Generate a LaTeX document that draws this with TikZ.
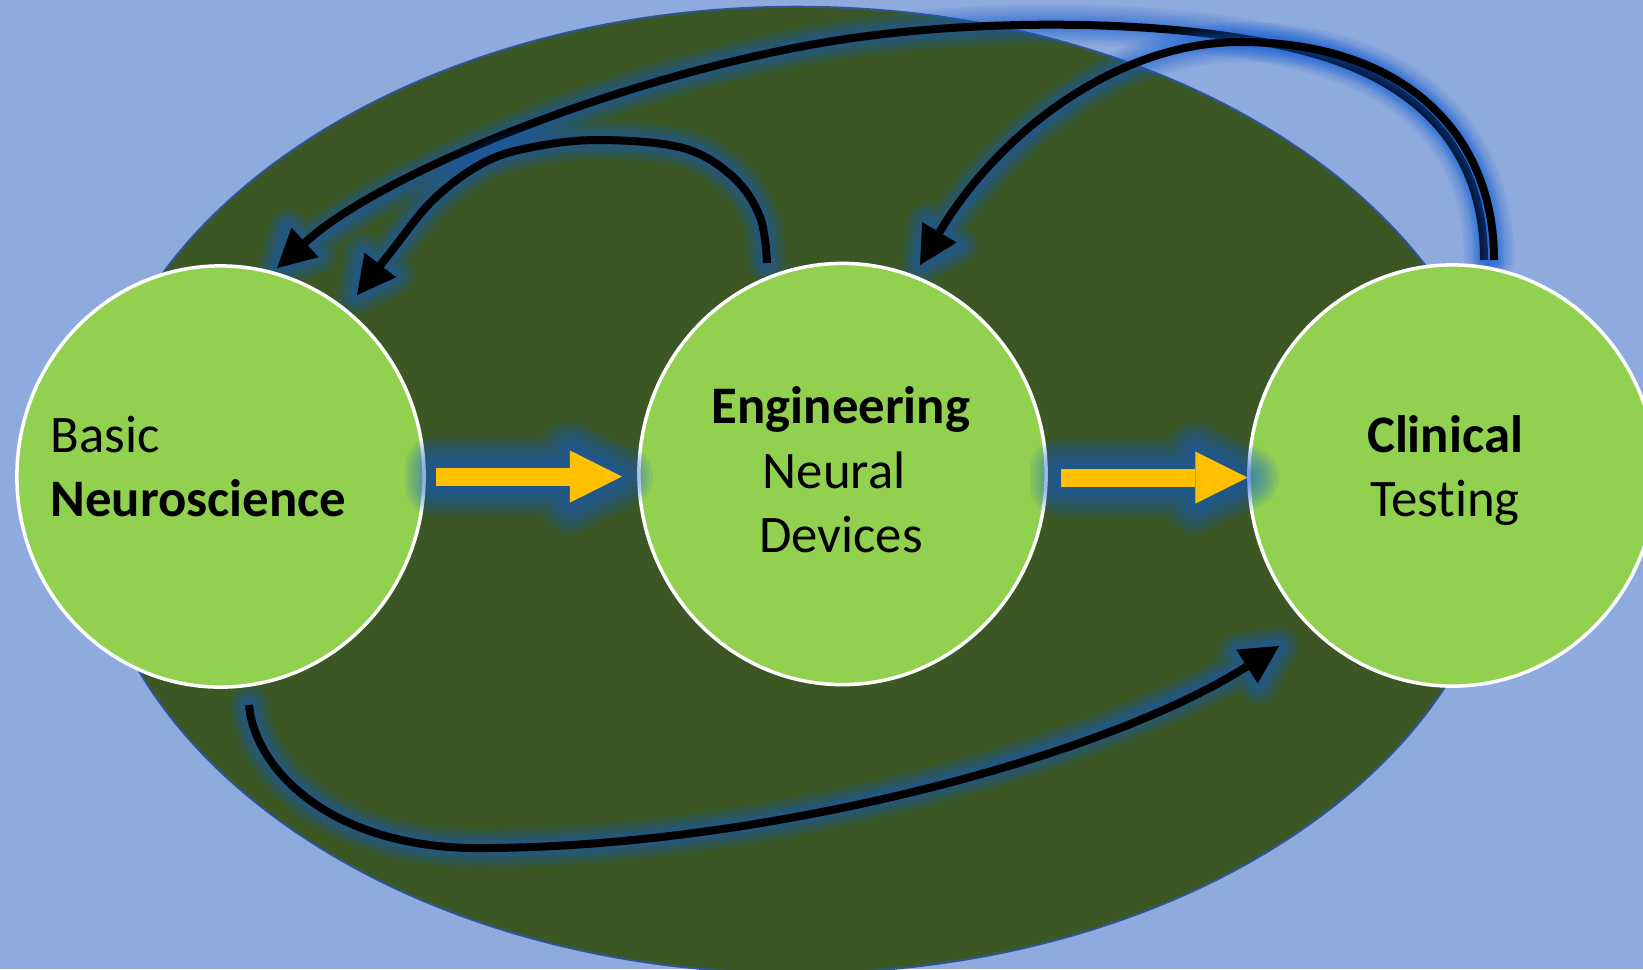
\documentclass[tikz,border=0pt]{standalone}
\usepackage{fontspec}
\setmainfont[Ligatures={NoCommon}]{Carlito}
\usetikzlibrary{arrows.meta,shapes.geometric}
\definecolor{bgblue}{HTML}{8FAADC}
\definecolor{dkgreen}{HTML}{3A5724}
\definecolor{ellborder}{HTML}{2F5597}
\definecolor{lgreen}{HTML}{92D050}
\definecolor{yel}{HTML}{FFC000}
\definecolor{glowc}{RGB}{20,95,215}
\newcommand{\glowline}[2]{%
  \foreach \w in {0.40,0.35,0.30,0.255,0.215,0.18,0.145,0.11}{%
    \begin{scope}[transparency group, opacity=0.085]
      \draw[glowc, line width=\w cm, line cap=round, line join=round] #1;
      \filldraw[glowc, line width=\w cm, line join=round] #2;
    \end{scope}}}
\newcommand{\glowpoly}[1]{%
  \foreach \w in {0.62,0.55,0.48,0.41,0.34,0.27,0.20,0.13}{%
    \begin{scope}[transparency group, opacity=0.1]
      \filldraw[glowc, line width=\w cm, line join=round] #1;
    \end{scope}}}
\begin{document}
\begin{tikzpicture}[x=0.01cm,y=-0.01cm,
  circnode/.style={ellipse, fill=lgreen, draw=white, line width=0.035cm,
    inner sep=0pt, minimum width=4.07cm, minimum height=4.21cm},
  txt/.style={inner sep=0pt, font=\fontsize{15pt}{18pt}\selectfont, text=black},
  blk/.style={draw=black, line width=0.08cm, line join=round,
    -{Triangle[length=0.38cm,width=0.40cm,line width=0pt]}},
  yarrow/.style={draw=yel, line width=0.18cm,
    -{Triangle[length=0.52cm,width=0.52cm,line width=0pt]}}]
\useasboundingbox (0,0) rectangle (1643,969);
\clip (0,0) rectangle (1643,969);
\fill[bgblue] (0,0) rectangle (1643,969);
\draw[fill=dkgreen, draw=ellborder, line width=0.02cm] (797,490) ellipse [x radius=7.09cm, y radius=4.83cm];

% end points of the feedback arrows
\coordinate (bS) at (1484,260); \coordinate (bT) at (277,268);
\coordinate (bB1) at (288,228); \coordinate (bB2) at (317,255);
\coordinate (cS) at (1494,260); \coordinate (cT) at (920,265);
\coordinate (cB1) at (927,222); \coordinate (cB2) at (958,245);
\coordinate (aS) at (767,263); \coordinate (aT) at (357,295);
\coordinate (aB1) at (363,253); \coordinate (aB2) at (395,275);
\coordinate (dS) at (249,705); \coordinate (dT) at (1279,646);
\coordinate (dB1) at (1237,652); \coordinate (dB2) at (1258,684);

\def\pB{(bS) .. controls (1484,150) and (1420,80) .. (1300,50) .. controls (1180,20) and (1000,18) .. (860,37) .. controls (650,65.5) and (387,168) .. (bT)}
\def\pC{(cS) .. controls (1494,130) and (1400,42) .. (1240,42) .. controls (1120,42) and (1000,130) .. (cT)}
\def\pA{plot[smooth, tension=0.6] coordinates {(aS) (760,217) (733,177) (683,148) (600,140) (533,147) (483,163) (433,200) (390,253) (aT)}}
\def\pD{(dS) .. controls (255,770) and (330,845) .. (470,848) .. controls (750,850) and (1100,760) .. (dT)}

\glowline{\pB}{(bT)--(bB1)--(bB2)--cycle}
\draw[blk] \pB;
\glowline{\pC}{(cT)--(cB1)--(cB2)--cycle}
\draw[blk] \pC;
\glowline{\pA}{(aT)--(aB1)--(aB2)--cycle}
\draw[blk] \pA;
\glowline{\pD}{(dT)--(dB1)--(dB2)--cycle}
\draw[blk] \pD;

% stages
\node[circnode] (basic) at (220.5,476.5) {};
\node[circnode] (eng) at (842.5,474) {};
\node[circnode] (clin) at (1452.5,475.5) {};

% forward arrows
\coordinate (y1s) at (436,476.5); \coordinate (y1e) at (622,476.5);
\coordinate (y2s) at (1061,477.5); \coordinate (y2e) at (1247.5,477.5);
\glowpoly{(436,467)--(570,467)--(570,451)--(622,476.5)--(570,503)--(570,485)--(436,485)--cycle}
\glowpoly{(1061,469)--(1195,469)--(1195,452)--(1247.5,477.5)--(1195,503)--(1195,486)--(1061,486)--cycle}
\draw[yarrow] (y1s) -- (y1e);
\draw[yarrow] (y2s) -- (y2e);

% labels
\node[txt, anchor=base west] (basic1) at (50,452) {Basic};
\node[txt, anchor=base west] (basic2) at (50,516) {\bfseries Neuroscience};
\node[txt, anchor=base] (eng1) at (841,423) {\bfseries Engineering};
\node[txt, anchor=base] (eng2) at (834,488) {Neural};
\node[txt, anchor=base] (eng3) at (841,552) {Devices};
\node[txt, anchor=base] (clin1) at (1445,452) {\bfseries Clinical};
\node[txt, anchor=base] (clin2) at (1445,516) {Testing};
\end{tikzpicture}
\end{document}
